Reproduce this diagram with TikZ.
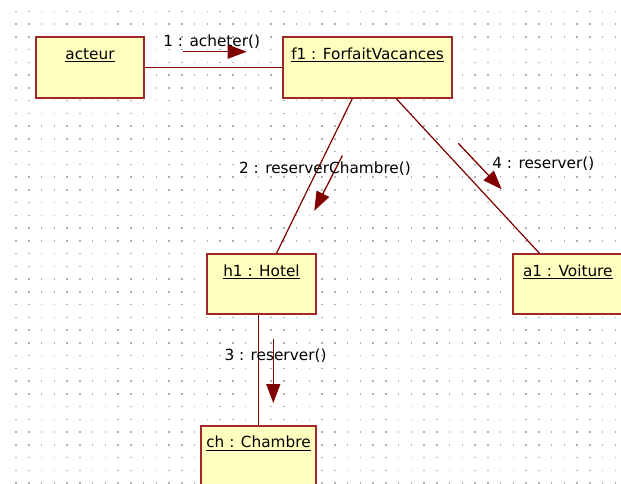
\documentclass[tikz,border=0pt]{standalone}
\usepackage{fontspec}
\setmainfont{DejaVu Sans}
\usetikzlibrary{arrows.meta}
\definecolor{boxfill}{RGB}{255,255,192}
\definecolor{boxline}{RGB}{160,40,40}
\definecolor{linkc}{RGB}{128,0,0}
\definecolor{gridc}{RGB}{175,175,175}
\tikzset{
  objbox/.style={draw=boxline, fill=boxfill, line width=1.4pt, inner sep=0pt, rectangle},
  link/.style={draw=linkc, line width=1.2pt},
  msg/.style={draw=linkc, fill=linkc, line width=1.3pt, -{Triangle[length=19pt,width=14pt]}},
  msglabel/.style={anchor=base, inner sep=0pt, text=black},
}
\newcommand{\objname}[1]{\leavevmode\vtop{\hbox{#1}\kern1.6pt\hrule height 1.3pt}}
\begin{document}
\begin{tikzpicture}[x=1pt,y=-1pt,font=\fontsize{15.3}{18}\selectfont]
\useasboundingbox (0,0) rectangle (621,483);
\fill[white] (0,0) rectangle (621,483);
% dotted grid
\foreach \i in {0,...,47}{
  \foreach \j in {0,...,37}{
    \fill[gridc] ({16+\i*12.75-0.75},{11.3+\j*12.75-0.75}) rectangle ++(1.5,1.5);
  }
}
% objects
\node[objbox, minimum width=108pt, minimum height=61pt,
      label={[msglabel, label distance=-23pt]north:\objname{acteur}}] (acteur) at (90,67.5) {};
\node[objbox, minimum width=169pt, minimum height=61pt,
      label={[msglabel, label distance=-23pt]north:\objname{f1 : ForfaitVacances}}] (f1) at (367.5,67.5) {};
\node[objbox, minimum width=109pt, minimum height=60pt,
      label={[msglabel, label distance=-23pt]north:\objname{h1 : Hotel}}] (h1) at (261.5,284) {};
\node[objbox, minimum width=110pt, minimum height=60pt,
      label={[msglabel, label distance=-23pt]north:\objname{a1 : Voiture}}] (a1) at (567.8,284) {};
\node[objbox, minimum width=115pt, minimum height=60pt,
      label={[msglabel, label distance=-22.5pt]north:\objname{ch : Chambre}}] (ch) at (258.5,456) {};
% links
\draw[link] (acteur) -- (f1);
\draw[link] (f1) -- (h1);
\draw[link] (f1) -- (a1);
\draw[link] (ch.north |- h1.south) -- (ch.north);
% message arrows
\coordinate (m1a) at (182.7,51.7); \coordinate (m1b) at (246.7,51.7);
\coordinate (m2a) at (342.3,155.7); \coordinate (m2b) at (314.3,210.7);
\coordinate (m3a) at (273.3,339.3); \coordinate (m3b) at (273.3,403);
\coordinate (m4a) at (458.3,143.3); \coordinate (m4b) at (501.7,189.3);
\draw[msg] (m1a) -- (m1b);
\draw[msg] (m2a) -- (m2b);
\draw[msg] (m3a) -- (m3b);
\draw[msg] (m4a) -- (m4b);
% message labels
\node[msglabel] (l1) at (211.7,46) {1 : acheter()};
\node[msglabel] (l2) at (325,173.3) {2 : reserverChambre()};
\node[msglabel] (l3) at (275.5,360) {3 : reserver()};
\node[msglabel] (l4) at (543.3,168.3) {4 : reserver()};
\end{tikzpicture}
\end{document}
